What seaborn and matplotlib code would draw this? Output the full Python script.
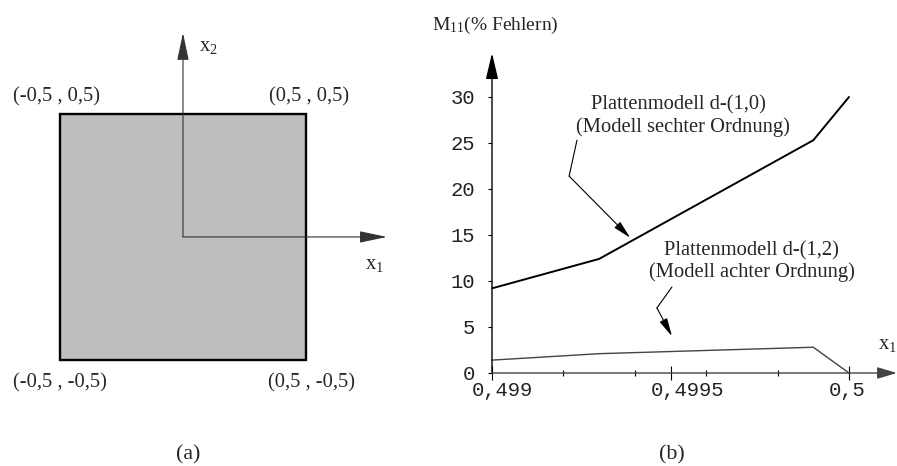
import matplotlib
matplotlib.use("Agg")
import matplotlib.pyplot as plt
import matplotlib.transforms as mtransforms
import seaborn as sns
import pandas as pd
import numpy as np

# (b) error curves M11 over x1
x_d10 = [0.499, 0.4993, 0.4999, 0.5]
m11_d10 = [9.2, 12.4, 25.3, 30.0]
x_d12 = [0.499, 0.4993, 0.4999, 0.5]
m11_d12 = [1.4, 2.1, 2.8, 0.0]

y_ticks = [0, 5, 10, 15, 20, 25, 30]
x_major = [0.499, 0.4995, 0.5]
x_major_labels = ["0,499", "0,4995", "0,5"]
x_minor = [0.4992, 0.4994, 0.4996, 0.4998]

# (a) plate region
square_x = [-0.5, 0.5, 0.5, -0.5]
square_y = [-0.5, -0.5, 0.5, 0.5]
corner_labels = ["(-0,5 , -0,5)", "(0,5 , -0,5)", "(0,5 , 0,5)", "(-0,5 , 0,5)"]

sns.set_theme(style="white")
plt.rcParams['font.family'] = ['Liberation Serif', 'DejaVu Serif']
plt.rcParams['mathtext.fontset'] = 'custom'
plt.rcParams['mathtext.rm'] = 'Liberation Serif'
plt.rcParams['mathtext.it'] = 'Liberation Serif:italic'

W, H = 897, 466
fig = plt.figure(figsize=(W / 100, H / 100), dpi=100)
fig.patch.set_facecolor('white')

txt_size = 14.8
tick_size = 14.8

# ---------- panel (a) ----------
axa = fig.add_axes([0, 0, 440 / W, 1])
axa.set_xlim(-0.744, 1.045); axa.set_ylim(-0.931, 0.963)
axa.axis('off')
axa.fill(square_x, square_y, facecolor='#bebebe', edgecolor='black', lw=1.7, zorder=1)
arr_a = dict(arrowstyle='-|>,head_length=1.7,head_width=0.36', color='#333333', lw=0.8,
             mutation_scale=10, shrinkA=0, shrinkB=0)
axa.annotate('', xy=(0.829, 0), xytext=(0, 0), arrowprops=arr_a, zorder=3)
axa.annotate('', xy=(0, 0.829), xytext=(0, 0), arrowprops=arr_a, zorder=3)
axa.text(0.065, 0.772, r'x$_2$', ha='left', va='center', fontsize=txt_size)
axa.text(0.78, -0.114, r'x$_1$', ha='center', va='center', fontsize=txt_size)
offsets = [(0, -23), (6, -23), (3, 17), (-4, 17)]
for cx, cy, lab, (dx, dy) in zip(square_x, square_y, corner_labels, offsets):
    axa.annotate(lab, xy=(cx, cy), xytext=(dx * 0.72, dy * 0.72), textcoords='offset points',
                 ha='center', va='center', fontsize=txt_size)
fig.text(188 / W, 1 - 455 / H, '(a)', ha='center', va='center', fontsize=txt_size + 1)

# ---------- panel (b) ----------
ax = fig.add_axes([492 / W, 93 / H, 357 / W, 276 / H])
ax.set_facecolor('none')
df1 = pd.DataFrame({'x': x_d10, 'M11': m11_d10})
df2 = pd.DataFrame({'x': x_d12, 'M11': m11_d12})
sns.lineplot(data=df1, x='x', y='M11', ax=ax, color='black', lw=1.4, sort=False,
             estimator=None, clip_on=False)
sns.lineplot(data=df2, x='x', y='M11', ax=ax, color='#444444', lw=1.0, sort=False,
             estimator=None, clip_on=False)
ax.set_xlim(0.499, 0.5); ax.set_ylim(0, 30)
for s in ax.spines.values():
    s.set_visible(False)
ax.set_xlabel(''); ax.set_ylabel('')
ax.set_yticks(y_ticks)
ax.set_yticklabels([str(v) for v in y_ticks], family='Liberation Mono', fontsize=tick_size,
                   color='#222222')
ax.set_xticks(x_major)
ax.set_xticklabels(x_major_labels, family='Liberation Mono', fontsize=tick_size, color='#222222')
ax.set_xticks(x_minor, minor=True)
ax.tick_params(axis='y', direction='out', length=3, width=0.8, color='black', pad=9, left=True)
ax.tick_params(axis='x', which='major', direction='inout', length=10, width=0.8, color='black',
               pad=1, bottom=True)
ax.tick_params(axis='x', which='minor', direction='inout', length=5, width=0.8, color='black',
               bottom=True)
ax.grid(False)
# the original tick labels start a little left of their tick
shift = mtransforms.ScaledTranslation(-20 / 100, 0, fig.dpi_scale_trans)
for lab in ax.get_xticklabels():
    lab.set_horizontalalignment('left')
    lab.set_transform(lab.get_transform() + shift)

ax.annotate('', xy=(0, 1.159), xytext=(0, 0), xycoords='axes fraction',
            arrowprops=dict(arrowstyle='-|>,head_length=1.6,head_width=0.38', color='black',
                            lw=1.0, mutation_scale=10, shrinkA=0, shrinkB=0),
            annotation_clip=False)
ax.annotate('', xy=(1.134, 0), xytext=(0, 0), xycoords='axes fraction',
            arrowprops=dict(arrowstyle='-|>,head_length=1.2,head_width=0.36', color='#444444',
                            lw=1.0, mutation_scale=10, shrinkA=0, shrinkB=0),
            annotation_clip=False)

fig.text(432 / W, 1 - 25 / H, r'M$_{11}$(% Fehlern)', ha='left', va='center', fontsize=14)
fig.text(887 / W, 1 - 345 / H, r'x$_1$', ha='center', va='center', fontsize=txt_size)

# curve labels with leader arrows
ax.text(0.499521, 29.2, 'Plattenmodell d-(1,0)', ha='center', va='center', fontsize=txt_size)
ax.text(0.499535, 26.7, '(Modell sechter Ordnung)', ha='center', va='center', fontsize=txt_size)
ax.plot([0.499238, 0.499216], [25.3, 21.4], color='black', lw=0.8)
ax.annotate('', xy=(0.499387, 14.7), xytext=(0.499216, 21.4),
            arrowprops=dict(arrowstyle='-|>,head_length=1.1,head_width=0.25', color='black',
                            lw=0.8, mutation_scale=10, shrinkA=0, shrinkB=0))

ax.text(0.499728, 13.26, 'Plattenmodell d-(1,2)', ha='center', va='center', fontsize=txt_size)
ax.text(0.499728, 10.98, '(Modell achter Ordnung)', ha='center', va='center', fontsize=txt_size)
ax.plot([0.499504, 0.499462], [9.35, 7.07], color='black', lw=0.8)
ax.annotate('', xy=(0.499504, 4.0), xytext=(0.499462, 7.07),
            arrowprops=dict(arrowstyle='-|>,head_length=1.1,head_width=0.25', color='black',
                            lw=0.8, mutation_scale=10, shrinkA=0, shrinkB=0))

fig.text(672 / W, 1 - 455 / H, '(b)', ha='center', va='center', fontsize=txt_size + 1)

fig.savefig('out.png', dpi=100)
